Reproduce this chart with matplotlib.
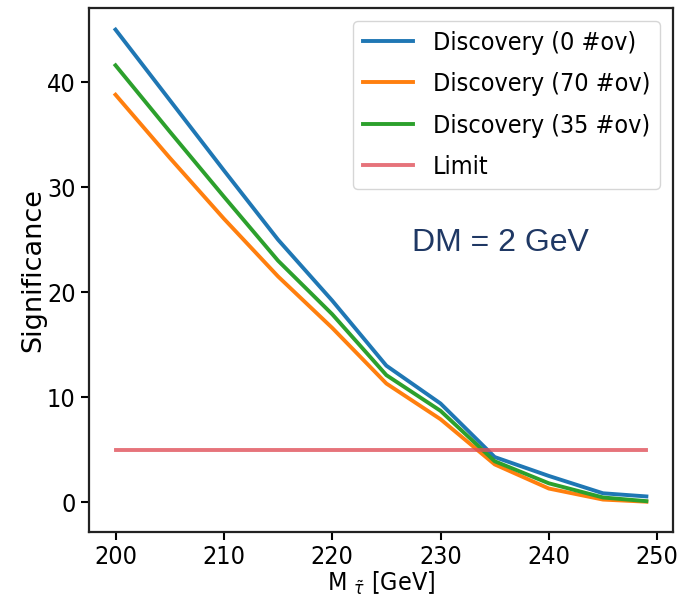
import matplotlib
matplotlib.use("Agg")
import matplotlib.pyplot as plt
from matplotlib import font_manager

mass = [200, 205, 210, 215, 220, 225, 230, 235, 240, 245, 249]
disc_0 = [45.0, 38.3, 31.6, 25.0, 19.2, 13.0, 9.4, 4.3, 2.5, 0.85, 0.55]
disc_70 = [38.8, 32.8, 27.0, 21.5, 16.6, 11.3, 7.9, 3.6, 1.3, 0.25, 0.05]
disc_35 = [41.6, 35.3, 29.1, 23.0, 17.9, 12.1, 8.7, 3.9, 1.8, 0.45, 0.1]
limit_value = 5.0
labels = ["Discovery (0 #ov)", "Discovery (70 #ov)", "Discovery (35 #ov)", "Limit"]

names = {f.name for f in font_manager.fontManager.ttflist}
cond = "DejaVu Sans Condensed" if "DejaVu Sans Condensed" in names else "DejaVu Sans"
plt.rcParams["font.family"] = [cond, "DejaVu Sans"]
plt.rcParams["font.stretch"] = "condensed"

fig = plt.figure(figsize=(6.87, 5.99), dpi=100)
ax = fig.add_axes([0.1295, 0.1125, 0.850, 0.874])

lw = 2.8
ax.plot(mass, disc_0, color="#1f77b4", lw=lw, label=labels[0])
ax.plot(mass, disc_70, color="#ff7f0e", lw=lw, label=labels[1])
ax.plot(mass, disc_35, color="#2ca02c", lw=lw, label=labels[2])
ax.plot([mass[0], mass[-1]], [limit_value, limit_value], color="#e0505a",
        alpha=0.8, lw=lw, label=labels[3])

ax.set_xlim(197.55, 251.45)
ax.set_ylim(-2.8, 47.05)
ax.set_xticks([200, 210, 220, 230, 240, 250])
ax.set_yticks([0, 10, 20, 30, 40])

fs = 18
ax.tick_params(labelsize=fs, length=6, width=1.5)
for s in ax.spines.values():
    s.set_linewidth(1.6)
    s.set_color("#222222")

ax.set_ylabel("Significance", fontsize=19.5, family="DejaVu Sans",
              fontstretch="normal", labelpad=0.5)
ax.set_xlabel(r"M $_{\tilde{\tau}}$ [GeV]", fontsize=fs, labelpad=1)

ax.legend(loc="upper right", fontsize=fs, handlelength=2.0, labelspacing=0.7)

ax.text(227.4, 24.7, "DM = 2 GeV", fontsize=23, color="#1f3864",
        family="Liberation Sans", fontstretch="normal", va="center", ha="left")

fig.savefig("out.png", dpi=100)
